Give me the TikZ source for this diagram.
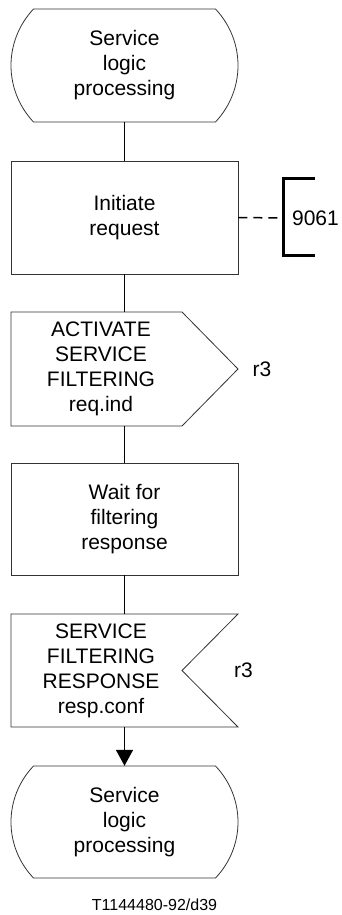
\documentclass[tikz,border=0pt]{standalone}
\usepackage{fontspec}
\setmainfont{Liberation Sans}
\usetikzlibrary{arrows.meta}
\begin{document}
\begin{tikzpicture}[x=1pt,y=-1pt,
  txt/.style={font=\fontsize{21}{25}\selectfont, align=center, inner sep=0pt},
  frame/.style={txt, minimum width=227pt, minimum height=113pt},
  outline/.style={draw=black!80, line width=0.8pt},
  flow/.style={line width=1.6pt, draw=black},
  dashline/.style={line width=1.5pt, dash pattern=on 9pt off 6pt},
  bracketline/.style={line width=3pt},
  small/.style={font=\fontsize{16}{19}\selectfont, inner sep=0pt}]
\useasboundingbox (0,0) rectangle (341,915);

% terminal top
\node[frame] (t1) at (124.5,65.5) {Service\\logic\\processing};
\draw[outline,shift={(t1.center)}] (-91,-56.5) -- (91,-56.5)
  .. controls (121,-24.5) and (121,24.5) .. (91,56.5) -- (-91,56.5)
  .. controls (-121,24.5) and (-121,-24.5) .. (-91,-56.5) -- cycle;

% initiate request
\node[frame, outline, minimum height=113pt] (r1) at (124.5,217.5) {Initiate\\request};

% input signal
\node[txt, minimum width=180pt, minimum height=114pt] (in1) at (101,369) {ACTIVATE\\SERVICE\\FILTERING\\req.ind};
\draw[outline,shift={(in1.center)}] (-90,-57) -- (81,-57) -- (137,0) -- (81,57) -- (-90,57) -- cycle;
\node[txt] (r3a) at (262,369) {r3};

% wait
\node[frame, outline, minimum height=112pt] (r2) at (124.5,519) {Wait for\\filtering\\response};

% output signal
\node[txt, minimum width=180pt, minimum height=113pt] (out1) at (101,670.5) {SERVICE\\FILTERING\\RESPONSE\\resp.conf};
\draw[outline,shift={(out1.center)}] (-90,-56.5) -- (137,-56.5) -- (81,0) -- (137,56.5) -- (-90,56.5) -- cycle;
\node[txt] (r3b) at (243.5,670) {r3};

% terminal bottom
\node[frame, minimum height=112pt] (t2) at (124.5,822) {Service\\logic\\processing};
\draw[outline,shift={(t2.center)}] (-91,-56) -- (91,-56)
  .. controls (121,-24.5) and (121,24.5) .. (91,56) -- (-91,56)
  .. controls (-121,24.5) and (-121,-24.5) .. (-91,-56) -- cycle;

% connectors
\draw[flow] (t1.south) -- (r1.north);
\draw[flow] (r1.south) -- (r1.south |- in1.north);
\draw[flow] (r1.south |- in1.south) -- (r2.north);
\draw[flow] (r2.south) -- (r2.south |- out1.north);
\draw[flow,-{Triangle[length=16pt,width=17pt]}] (r2.south |- out1.south) -- (t2.north);

% comment bracket
\coordinate (brk) at (283,218);
\draw[dashline] (r1.east) -- (brk);
\draw[bracketline,shift={(brk)}] (32,-40) -- (0,-40) -- (0,37) -- (32,37);
\node[txt] (ref) at (315.5,218) {9061};

% caption
\node[small] (cap) at (154.5,905) {T1144480-92/d39};
\end{tikzpicture}
\end{document}
